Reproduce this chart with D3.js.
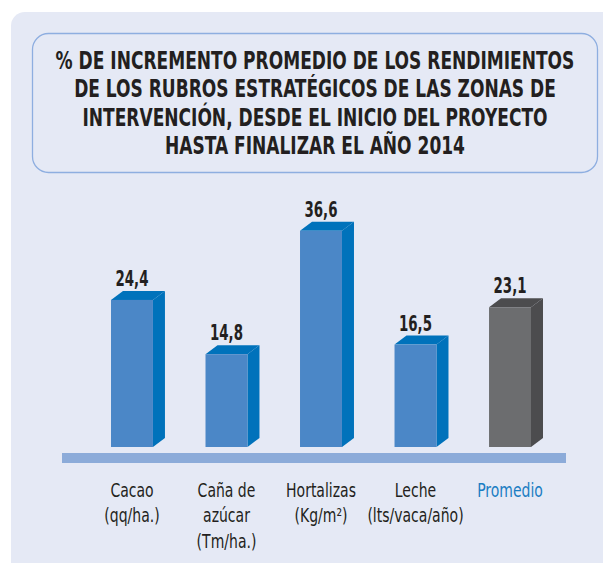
<!DOCTYPE html>
<html lang="es">
<head>
  <meta charset="UTF-8">
  <title>% de incremento promedio de los rendimientos</title>
  <script src="https://d3js.org/d3.v7.min.js"></script>
  <style>
    body {
      margin: 0;
      background: #fff;
    }
    svg text {
      font-family: "Liberation Sans Narrow", "DejaVu Sans Condensed", "Arial Narrow", sans-serif;
      font-stretch: condensed;
    }
  </style>
</head>
<body>
  <svg id="chart" width="603" height="563"></svg>

  <script>
    // data
    const categories = ["Cacao", "Caña de azúcar", "Hortalizas", "Leche", "Promedio"];
    const values = [24.4, 14.8, 36.6, 16.5, 23.1];
    const labelLines = [
      ["Cacao", "(qq/ha.)"],
      ["Caña de", "azúcar", "(Tm/ha.)"],
      ["Hortalizas", "(Kg/m²)"],
      ["Leche", "(lts/vaca/año)"],
      ["Promedio"]
    ];
    const titleLines = [
      "% DE INCREMENTO PROMEDIO DE LOS RENDIMIENTOS",
      "DE LOS RUBROS ESTRATÉGICOS DE LAS ZONAS DE",
      "INTERVENCIÓN, DESDE EL INICIO DEL PROYECTO",
      "HASTA FINALIZAR EL AÑO 2014"
    ];

    const data = categories.map((c, i) => ({ cat: c, value: values[i], lines: labelLines[i], avg: c === "Promedio" }));

    const svg = d3.select("#chart");
    const depthX = 12, depthY = 9;

    const es = d3.formatLocale({ decimal: ",", thousands: ".", grouping: [3], currency: ["", ""] });
    const fmt = es.format(".1f");

    // the reference font is narrower than what we have, so squeeze horizontally
    function squeeze(ref, target) {
      return target / ref.node().getComputedTextLength();
    }

    // background panel + title box
    svg.append("rect")
      .attr("x", 11).attr("y", 12)
      .attr("width", 620).attr("height", 580)
      .attr("rx", 14)
      .attr("fill", "#e5e9f5");

    svg.append("rect")
      .attr("x", 32.5).attr("y", 33.5)
      .attr("width", 565).attr("height", 139)
      .attr("rx", 16)
      .attr("fill", "none")
      .attr("stroke", "#8eaee0")
      .attr("stroke-width", 1.3);

    const title = svg.append("g");
    const titleText = title.selectAll("text")
      .data(titleLines)
      .join("text")
        .attr("x", 0)
        .attr("y", (d, i) => 69 + i * 28.3)
        .attr("text-anchor", "middle")
        .attr("font-size", 25)
        .attr("font-weight", "bold")
        .attr("fill", "#231f20")
        .text(d => d);
    title.attr("transform", `translate(315,0) scale(${squeeze(titleText, 519)},1)`);

    // scales
    const x = d3.scaleBand()
      .domain(categories)
      .range([111, 531])
      .paddingInner(0.556);

    const y = d3.scaleLinear()
      .domain([0, 40])
      .range([438, 438 - 226.4]);

    const bw = x.bandwidth();

    // base band
    svg.append("rect")
      .attr("x", 62).attr("y", 453)
      .attr("width", 504).attr("height", 10)
      .attr("fill", "#8cabd9");

    const bars = svg.append("g")
      .selectAll("g")
      .data(data)
      .join("g");

    const sideColor = d => d.avg ? "#4c4c4e" : "#0072bb";
    const frontColor = d => d.avg ? "#6c6d6f" : "#4b87c7";

    // right side
    bars.append("path")
      .attr("fill", sideColor)
      .attr("d", d => {
        const x0 = x(d.cat) + bw, t = y(d.value), b = y(0) + depthY;
        return `M${x0},${t}L${x0 + depthX},${t - depthY}L${x0 + depthX},${b - depthY}L${x0},${b}Z`;
      });

    // top
    bars.append("path")
      .attr("fill", sideColor)
      .attr("d", d => {
        const x0 = x(d.cat), t = y(d.value);
        return `M${x0},${t}L${x0 + depthX},${t - depthY}L${x0 + bw + depthX},${t - depthY}L${x0 + bw},${t}Z`;
      });

    // front
    bars.append("rect")
      .attr("fill", frontColor)
      .attr("x", d => x(d.cat))
      .attr("y", d => y(d.value))
      .attr("width", bw)
      .attr("height", d => y(0) + depthY - y(d.value));

    // value labels
    const valG = bars.append("g");
    const valText = valG.append("text")
      .attr("text-anchor", "middle")
      .attr("font-size", 20.5)
      .attr("font-weight", "bold")
      .attr("fill", "#231f20")
      .text(d => fmt(d.value));
    const sV = squeeze(valText, 33);
    valG.attr("transform", d => `translate(${x(d.cat) + bw / 2},${y(d.value) - 14}) scale(${sV},1)`);

    // category labels
    const catG = bars.append("g");
    const catText = catG.append("text")
      .attr("text-anchor", "middle")
      .attr("font-size", 19)
      .attr("fill", d => d.avg ? "#1a7dc3" : "#231f20");
    catText.selectAll("tspan")
      .data(d => d.lines)
      .join("tspan")
        .attr("x", 0)
        .attr("y", (d, i) => i * 25.5)
        .text(d => d);
    // fit "Hortalizas" to its width in the reference
    const hort = catText.filter(d => d.cat === "Hortalizas").select("tspan");
    const sC = squeeze(hort, 70);
    catG.attr("transform", d => `translate(${x(d.cat) + bw / 2},497) scale(${sC},1)`);
  </script>
</body>
</html>
